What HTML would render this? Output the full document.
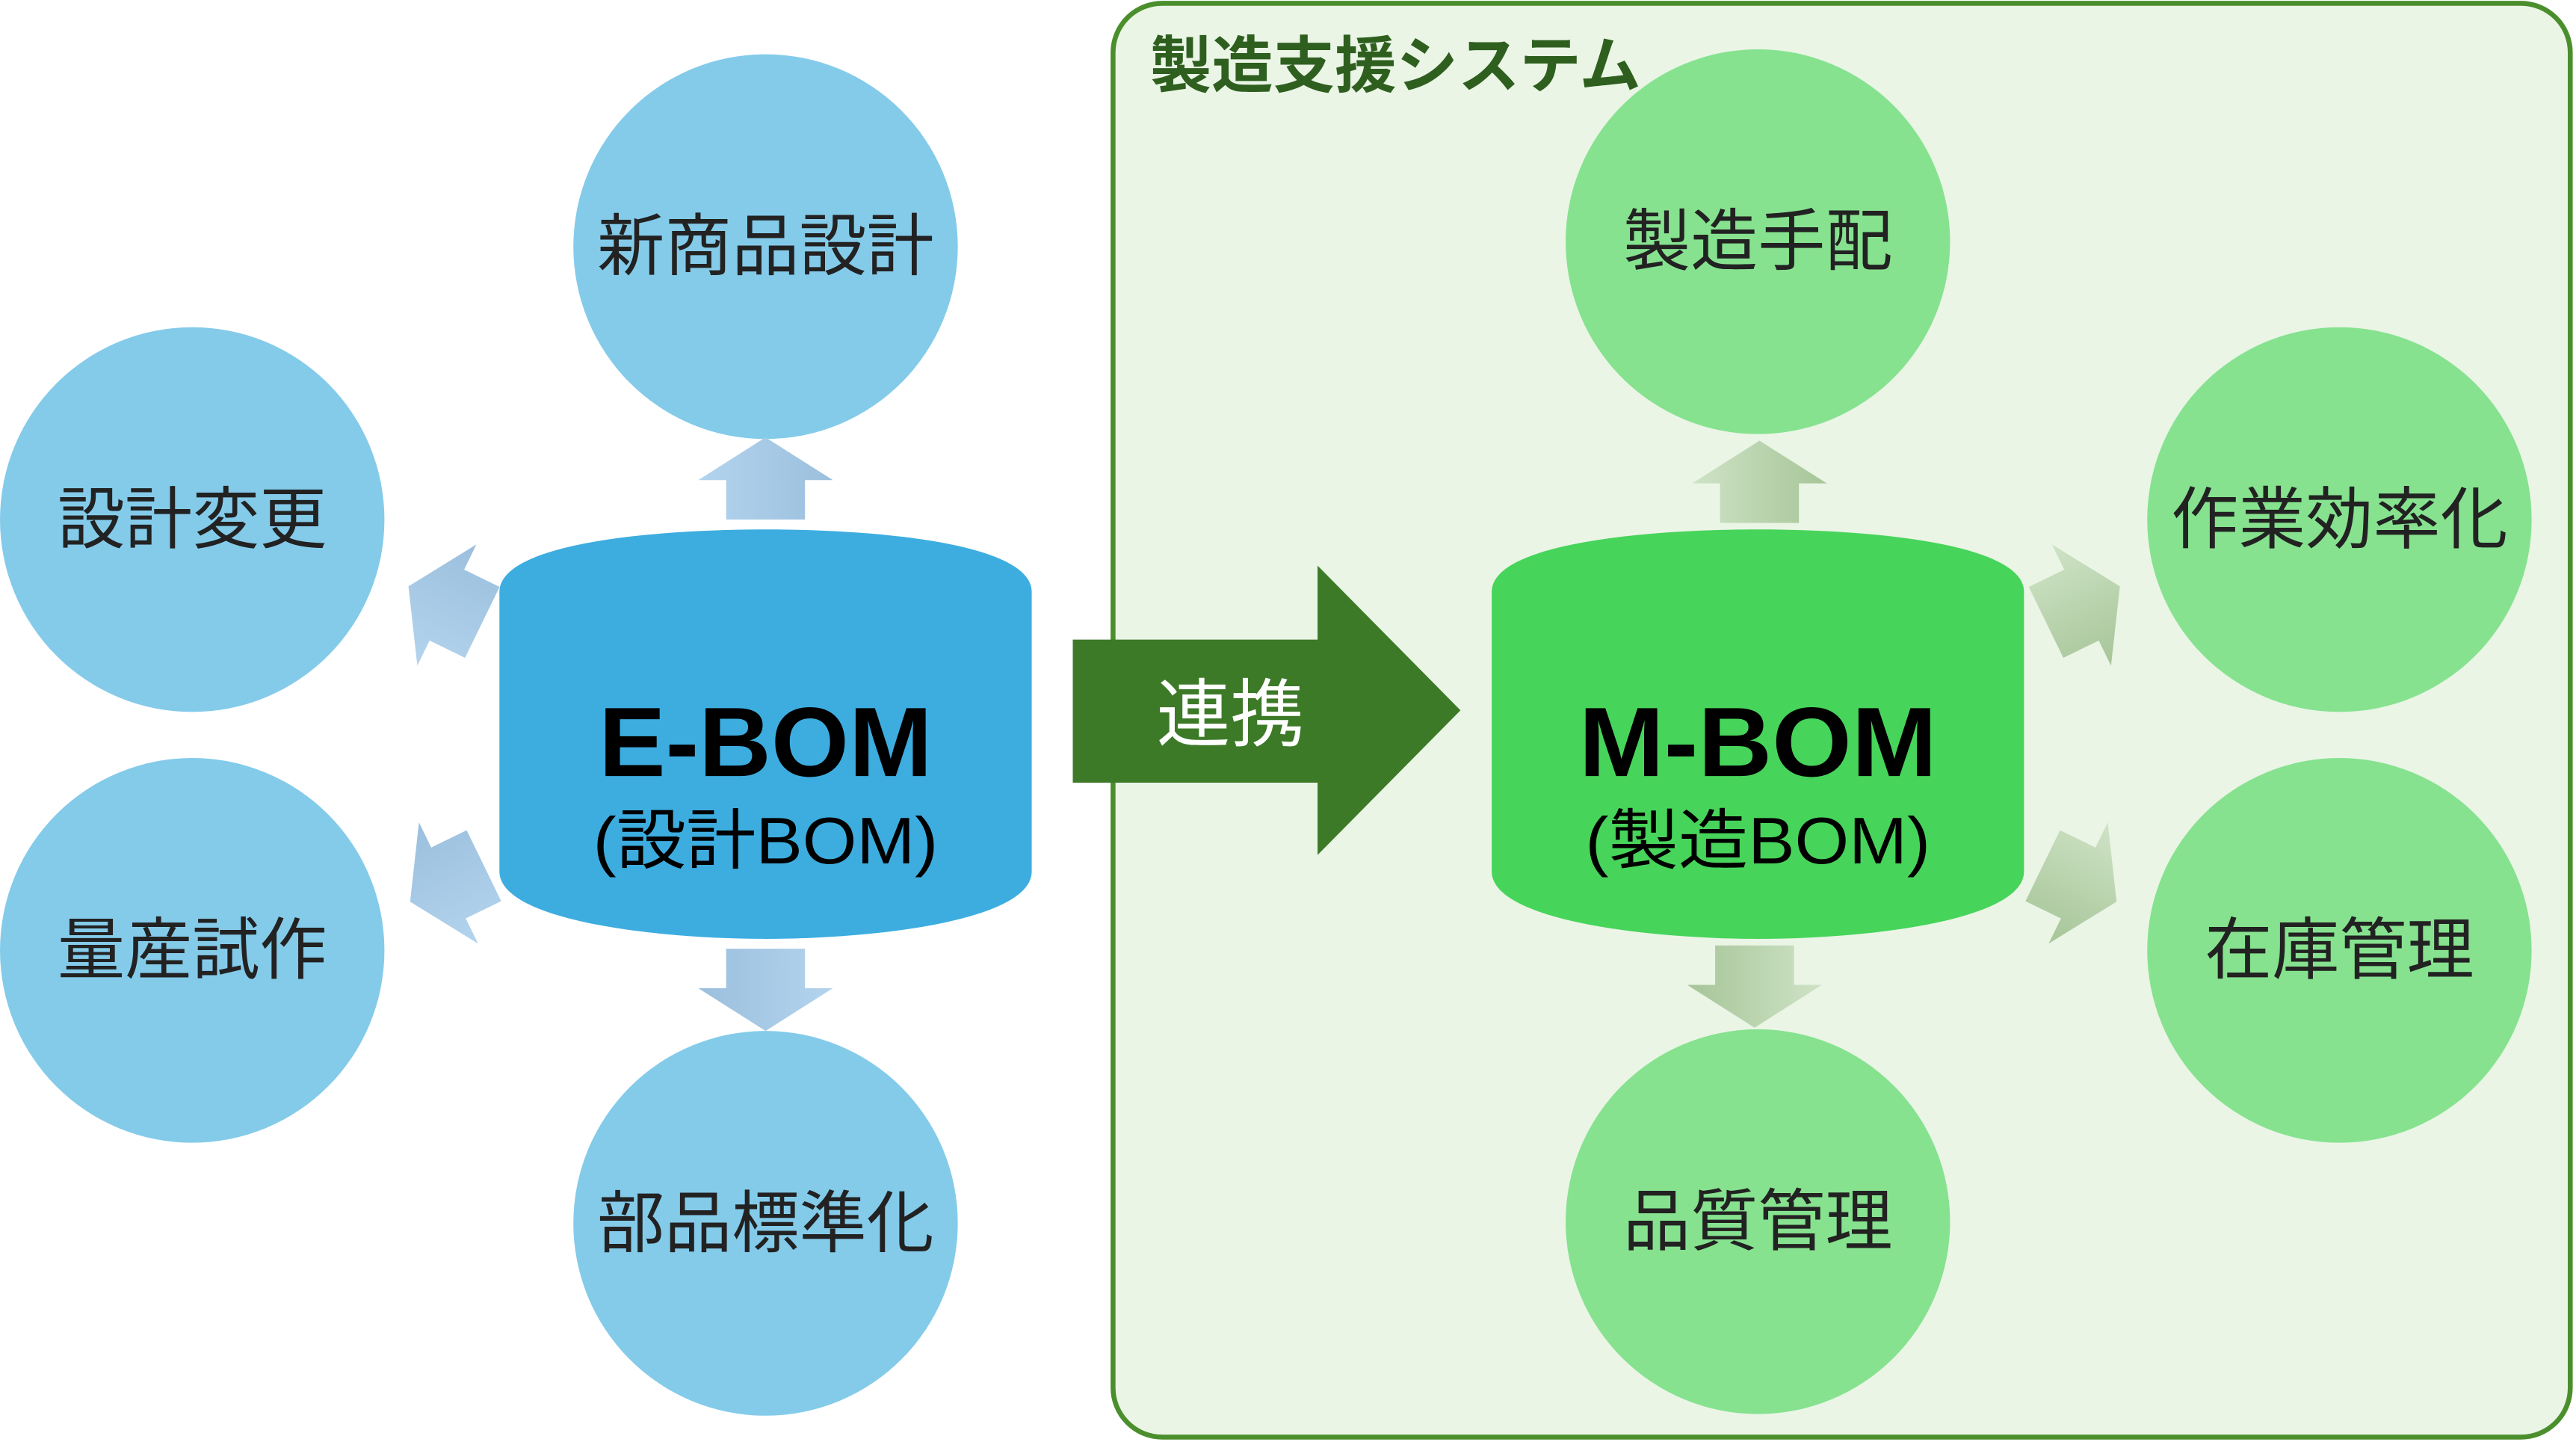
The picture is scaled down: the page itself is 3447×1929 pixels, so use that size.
<!DOCTYPE html>
<html><head><meta charset="utf-8"><style>
html,body{margin:0;padding:0;background:#fff}
svg{display:block}
text{font-family:"Liberation Sans","Noto Sans CJK JP",sans-serif}
</style></head><body>
<svg width="3447" height="1929" viewBox="0 0 1568 877" preserveAspectRatio="none" xmlns="http://www.w3.org/2000/svg">
<defs>
<linearGradient id="bg" x1="0" y1="0" x2="1" y2="0"><stop offset="0" stop-color="#b3d4ee"/><stop offset="1" stop-color="#9bbfdd"/></linearGradient>
<linearGradient id="gg" x1="0" y1="0" x2="1" y2="0"><stop offset="0" stop-color="#cfe3c6"/><stop offset="1" stop-color="#a6c598"/></linearGradient>
<polygon id="ar" points="-24,24 24,24 24,0 41,0 0,-26 -41,0 -24,0"/>
</defs>
<rect x="677.5" y="2" width="887" height="872" rx="30" fill="#eaf5e6" stroke="#4b8f2d" stroke-width="3"/>
<text x="700" y="53" font-size="37.5" font-weight="bold" fill="#2f5f1f">製造支援システム</text>

<g fill="#84cbea">
<circle cx="466" cy="150" r="117"/><circle cx="117" cy="316" r="117"/>
<circle cx="117" cy="578" r="117"/><circle cx="466" cy="744" r="117"/>
</g>
<g fill="#86e28f">
<circle cx="1070" cy="147" r="117"/><circle cx="1424" cy="316" r="117"/>
<circle cx="1424" cy="578" r="117"/><circle cx="1070" cy="743" r="117"/>
</g>
<g font-size="41" fill="#222" text-anchor="middle">
<text x="466" y="164">新商品設計</text>
<text x="117" y="330">設計変更</text>
<text x="117" y="592">量産試作</text>
<text x="466" y="758">部品標準化</text>
<text x="1070" y="161">製造手配</text>
<text x="1424" y="330">作業効率化</text>
<text x="1424" y="592">在庫管理</text>
<text x="1070" y="757">品質管理</text>
</g>

<use href="#ar" fill="url(#bg)" transform="translate(466,292)"/>
<use href="#ar" fill="url(#bg)" transform="translate(466,601) rotate(180)"/>
<use href="#ar" fill="url(#bg)" transform="translate(272,368) rotate(-64)"/>
<use href="#ar" fill="url(#bg)" transform="translate(273,537) rotate(-116)"/>
<use href="#ar" fill="url(#gg)" transform="translate(1071,294)"/>
<use href="#ar" fill="url(#gg)" transform="translate(1068,599) rotate(180)"/>
<use href="#ar" fill="url(#gg)" transform="translate(1267,368) rotate(64)"/>
<use href="#ar" fill="url(#gg)" transform="translate(1265,537) rotate(116)"/>

<path d="M304,360 C304,330 400,322 466,322 C532,322 628,330 628,360 L628,530 C628,560 532,571 466,571 C400,571 304,560 304,530 Z" fill="#3dade0"/>
<path d="M908,360 C908,330 1004,322 1070,322 C1136,322 1232,330 1232,360 L1232,530 C1232,560 1136,571 1070,571 C1004,571 908,560 908,530 Z" fill="#47d45a"/>
<text x="466" y="472" font-size="60" font-weight="bold" text-anchor="middle" fill="#000" textLength="203" lengthAdjust="spacingAndGlyphs">E-BOM</text>
<text x="466" y="525" font-size="40" text-anchor="middle" fill="#000" textLength="210" lengthAdjust="spacingAndGlyphs">(設計BOM)</text>
<text x="1070" y="472" font-size="60" font-weight="bold" text-anchor="middle" fill="#000" textLength="218" lengthAdjust="spacingAndGlyphs">M-BOM</text>
<text x="1070" y="525" font-size="40" text-anchor="middle" fill="#000" textLength="210" lengthAdjust="spacingAndGlyphs">(製造BOM)</text>

<polygon points="653,389 802,389 802,344 889,432 802,520 802,476 653,476" fill="#3d7a28"/>
<text x="749" y="450" font-size="45" text-anchor="middle" fill="#fff">連携</text>
</svg>
</body></html>
